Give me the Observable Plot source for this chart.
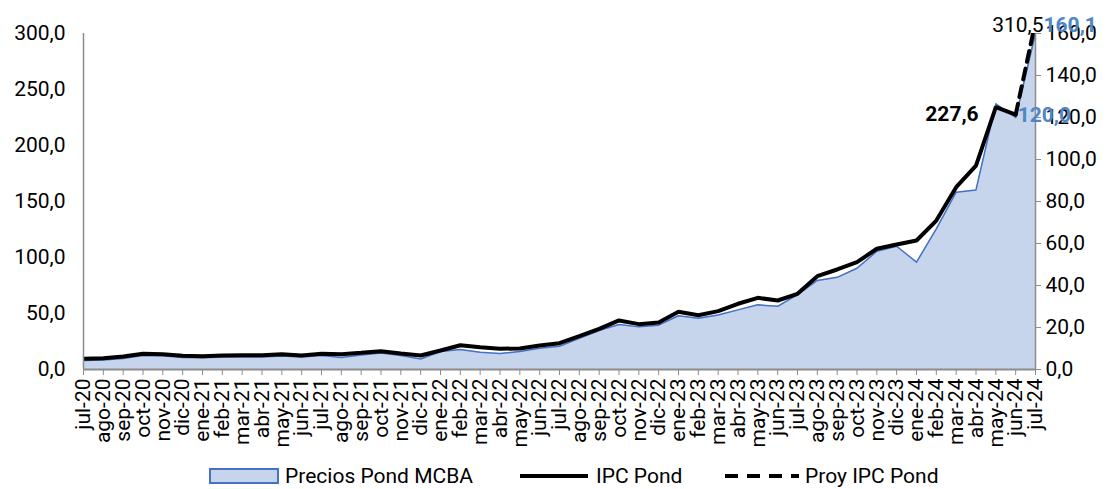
<!DOCTYPE html>
<html>
<head>
<meta charset="utf-8">
<script src="https://cdn.jsdelivr.net/npm/d3@7"></script>
<script src="https://cdn.jsdelivr.net/npm/@observablehq/plot@0.6"></script>
<style>
  body { margin: 0; background: white; font-family: Roboto, sans-serif; }
  #legend { position: relative; width: 1110px; height: 27px; font-size: 21px; color: #000; }
  #legend .item { position: absolute; top: 2px; height: 24px; display: flex; align-items: center; white-space: nowrap; }
  #legend .sw { margin-right: 6px; }
</style>
</head>
<body>
<div id="chart"></div>
<div id="legend"></div>
<script>
const months = ["jul-20","ago-20","sep-20","oct-20","nov-20","dic-20","ene-21","feb-21","mar-21","abr-21","may-21","jun-21","jul-21","ago-21","sep-21","oct-21","nov-21","dic-21","ene-22","feb-22","mar-22","abr-22","may-22","jun-22","jul-22","ago-22","sep-22","oct-22","nov-22","dic-22","ene-23","feb-23","mar-23","abr-23","may-23","jun-23","jul-23","ago-23","sep-23","oct-23","nov-23","dic-23","ene-24","feb-24","mar-24","abr-24","may-24","jun-24","jul-24"];

// Precios Pond MCBA (right axis, 0-160)
const mcba = [4.3,4.5,5.2,6.7,6.6,5.7,5.6,5.9,6.0,6.0,6.4,6.0,6.7,5.7,6.9,7.9,6.7,5.0,8.6,9.5,8.2,7.6,8.6,10.1,11.1,14.8,18.6,21.4,20.3,21.1,25.6,24.4,26.0,28.4,30.8,30.1,35.7,42.4,43.9,48.2,56.3,58.7,51.1,67.0,84.4,85.5,126.5,120.0,160.1];

// IPC Pond (left axis, 0-300), jul-20 .. jun-24
const ipc = [9.6,10.1,11.6,14.0,13.7,12.2,11.9,12.5,12.8,12.8,13.7,12.5,14.0,13.7,14.9,16.3,14.3,12.5,17.0,21.7,19.9,18.5,18.8,21.4,23.5,29.7,36.3,43.8,40.5,42.0,51.5,48.5,52.1,58.7,64.0,61.6,67.6,83.3,89.3,95.8,107.8,111.6,115.2,133.0,162.8,182.1,234.2,227.6];

// Proy IPC Pond
const projMonths = ["jun-24","jul-24"];
const projValues = [227.6, 310.5];

const leftTicks = [0,50,100,150,200,250,300];
const rightTicks = [0,20,40,60,80,100,120,140,160];
const leftMax = 300, rightMax = 160;

const seriesNames = ["Precios Pond MCBA", "IPC Pond", "Proy IPC Pond"];

const toLeft = v => v * leftMax / rightMax;
const fmt = v => v.toFixed(1).replace(".", ",");

const mcbaData = months.map((m, i) => ({m, v: mcba[i]}));
const ipcData = ipc.map((v, i) => ({m: months[i], v}));
const projData = projMonths.map((m, i) => ({m, v: projValues[i]}));

const axisGray = "#8c8c8c";
const blue = "#4472c4";
const fillBlue = "#c6d4ec";
const labelBlue = "#4f86c6";
const FS = 21;

const chart = Plot.plot({
  width: 1110,
  height: 462,
  marginLeft: 83,
  marginRight: 75,
  marginTop: 33,
  marginBottom: 93,
  style: {fontFamily: "Roboto", fontSize: FS + "px", background: "white", overflow: "visible", color: "black"},
  x: {type: "point", domain: months, padding: 0},
  y: {domain: [0, leftMax]},
  marks: [
    Plot.areaY(mcbaData, {x: "m", y: d => toLeft(d.v), fill: fillBlue, clip: true}),
    Plot.lineY(mcbaData, {x: "m", y: d => toLeft(d.v), stroke: blue, strokeWidth: 1.5, clip: true}),
    Plot.lineY(ipcData, {x: "m", y: "v", stroke: "black", strokeWidth: 4, strokeLinejoin: "miter", clip: true}),
    Plot.lineY(projData, {x: "m", y: "v", stroke: "black", strokeWidth: 4, strokeDasharray: "11,7", clip: true}),
    Plot.ruleX([months[0], months[months.length - 1]], {y1: 0, y2: leftMax, stroke: axisGray, strokeWidth: 1.5}),
    Plot.ruleY([0], {stroke: axisGray, strokeWidth: 2}),
    Plot.axisX({tickRotate: -90, tickSize: 6, tickPadding: 3, stroke: axisGray, fill: "black", fontSize: FS, label: null}),
    Plot.axisY({anchor: "left", ticks: leftTicks, tickSize: 0, tickPadding: 18, tickFormat: fmt, fill: "black", fontSize: FS, label: null}),
    Plot.axisY(rightTicks.map(toLeft), {anchor: "right", tickSize: 5, tickPadding: 5, stroke: axisGray, fill: "black", fontSize: FS, tickFormat: d => fmt(d * rightMax / leftMax), label: null}),
    // annotations
    Plot.text([{m: "jun-24", v: ipc[47]}], {x: "m", y: "v", text: d => fmt(d.v), dx: -37, dy: 0, textAnchor: "end", fill: "black", fontWeight: "bold", fontSize: FS}),
    Plot.text([{m: "jun-24", v: mcba[47]}], {x: "m", y: d => toLeft(d.v), text: d => fmt(d.v), dx: 2, dy: -2, textAnchor: "start", fill: labelBlue, fontWeight: "bold", fontSize: FS}),
    Plot.text([{m: "jul-24", v: projValues[1]}], {x: "m", y: d => Math.min(d.v, leftMax), text: d => fmt(d.v), dx: 8, dy: -8, textAnchor: "end", fill: "black", fontSize: FS}),
    Plot.text([{m: "jul-24", v: mcba[48]}], {x: "m", y: d => Math.min(toLeft(d.v), leftMax), text: d => fmt(d.v), dx: 8, dy: -8, textAnchor: "start", fill: labelBlue, fontWeight: "bold", fontSize: FS})
  ]
});
document.getElementById("chart").appendChild(chart);

// legend
const legend = document.getElementById("legend");
const items = [
  {x: 209, sw: `<svg class="sw" width="70" height="16"><rect x="1" y="1" width="68" height="14" fill="${fillBlue}" stroke="${blue}" stroke-width="2"/></svg>`},
  {x: 520, sw: `<svg class="sw" width="70" height="16"><line x1="0" y1="8" x2="68" y2="8" stroke="black" stroke-width="4"/></svg>`},
  {x: 725, sw: `<svg class="sw" width="74" height="16"><line x1="0" y1="8" x2="74" y2="8" stroke="black" stroke-width="4" stroke-dasharray="13,9"/></svg>`}
];
items.forEach((it, i) => {
  const d = document.createElement("div");
  d.className = "item";
  d.style.left = it.x + "px";
  d.innerHTML = it.sw + `<span>${seriesNames[i]}</span>`;
  legend.appendChild(d);
});
</script>
</body>
</html>
